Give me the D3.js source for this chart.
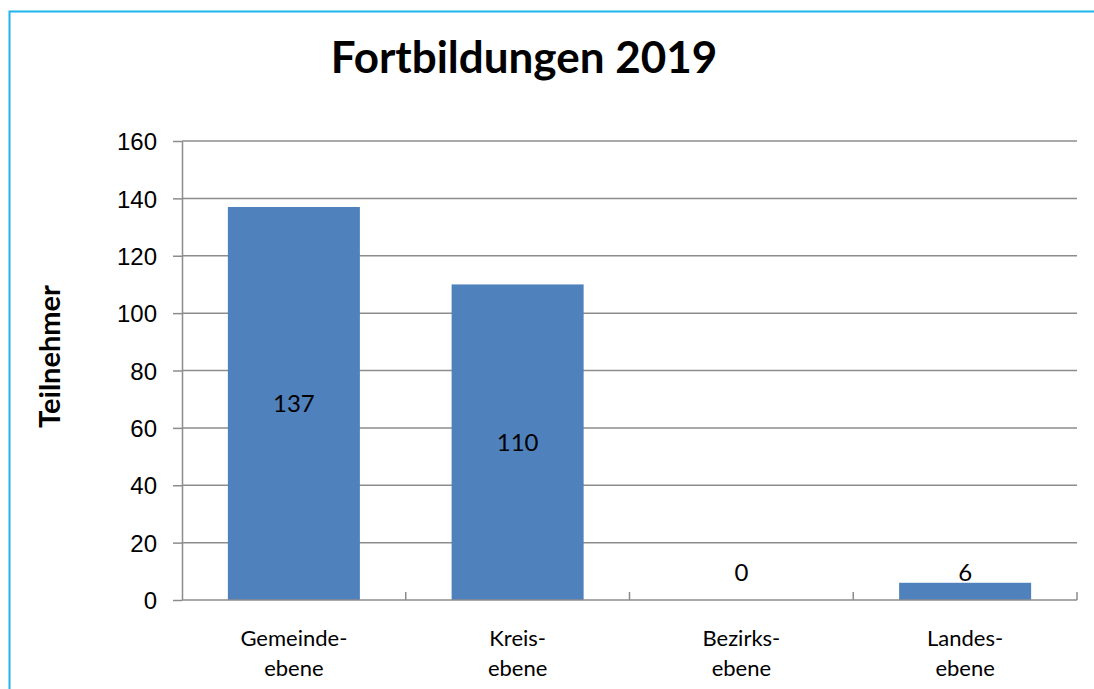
<!doctype html>
<html lang="de">
  <head>
    <meta charset="utf-8">
    <title>Fortbildungen 2019</title>
    <style>
    body { margin: 0; background: #fff; }
    svg { display: block; font-family: Lato, "Open Sans", sans-serif; }
    .grid line { stroke: #8c8c8c; stroke-width: 1.5px; }
    .axis path, .axis line { stroke: #8c8c8c; stroke-width: 1.5px; }
    .axis text { fill: #000; font-size: 24px; }
    .axis text.cat { font-size: 22px; }
    </style>
    <script src="https://d3js.org/d3.v7.min.js"></script>
  </head>
  <body>
    <svg width="1094" height="689"></svg>
    <script>

    // chart data
    var categories = [["Gemeinde-", "ebene"], ["Kreis-", "ebene"], ["Bezirks-", "ebene"], ["Landes-", "ebene"]];
    var values = [137, 110, 0, 6];
    var yTicks = [0, 20, 40, 60, 80, 100, 120, 140, 160];
    var title = "Fortbildungen 2019";
    var yTitle = "Teilnehmer";

    var svg = d3.select("svg"),
        width = +svg.attr("width"),
        height = +svg.attr("height");

    var margin = {left: 182, right: 1077, top: 141, bottom: 600};

    // outer frame (runs off the right and bottom edges)
    svg.append("rect")
        .attr("x", 9.5).attr("y", 11.5)
        .attr("width", width + 20).attr("height", height + 20)
        .attr("fill", "none")
        .attr("stroke", "#1fb4ee")
        .attr("stroke-width", 2);

    var x = d3.scaleBand()
        .domain(d3.range(categories.length))
        .range([margin.left, margin.right])
        .paddingInner(0.41)
        .paddingOuter(0.205);

    var xBounds = d3.scaleLinear()
        .domain([0, categories.length])
        .range([margin.left, margin.right]);

    var y = d3.scaleLinear()
        .domain([0, 160])
        .range([margin.bottom, margin.top]);

    // gridlines
    svg.append("g")
        .attr("class", "grid")
        .selectAll("line")
        .data(yTicks.filter(function(d) { return d > 0; }))
        .enter().append("line")
        .attr("x1", margin.left)
        .attr("x2", margin.right)
        .attr("y1", function(d) { return y(d); })
        .attr("y2", function(d) { return y(d); });

    // bars
    svg.append("g")
        .selectAll("rect")
        .data(values)
        .enter().append("rect")
        .attr("x", function(d, i) { return x(i); })
        .attr("width", x.bandwidth())
        .attr("y", function(d) { return y(d); })
        .attr("height", function(d) { return y(0) - y(d); })
        .attr("fill", "#4f81bd");

    // y axis
    var yAxis = svg.append("g")
        .attr("class", "axis")
        .attr("transform", "translate(" + margin.left + ",0)")
        .call(d3.axisLeft(y).tickValues(yTicks).tickSize(9).tickSizeOuter(0).tickPadding(16));
    yAxis.selectAll("text").attr("dy", "0.36em");

    // x axis: line plus upward ticks at category boundaries
    var xAxis = svg.append("g")
        .attr("class", "axis")
        .attr("transform", "translate(0," + margin.bottom + ")");
    xAxis.append("line")
        .attr("x1", margin.left).attr("x2", margin.right);
    xAxis.selectAll(".bound")
        .data(d3.range(1, categories.length + 1))
        .enter().append("line")
        .attr("class", "bound")
        .attr("x1", function(d) { return xBounds(d); })
        .attr("x2", function(d) { return xBounds(d); })
        .attr("y1", 0).attr("y2", -8);

    var catLabel = xAxis.selectAll(".cat")
        .data(categories)
        .enter().append("text")
        .attr("class", "cat")
        .attr("text-anchor", "middle")
        .attr("x", function(d, i) { return x(i) + x.bandwidth() / 2; });
    catLabel.selectAll("tspan")
        .data(function(d) { return d; })
        .enter().append("tspan")
        .attr("x", function() { return this.parentNode.getAttribute("x"); })
        .attr("y", function(d, i) { return 46 + i * 30; })
        .text(function(d) { return d; });

    // data labels (small bars get their label just above)
    svg.append("g")
        .selectAll("text")
        .data(values)
        .enter().append("text")
        .attr("text-anchor", "middle")
        .attr("font-size", 24)
        .attr("dy", "0.36em")
        .attr("x", function(d, i) { return x(i) + x.bandwidth() / 2; })
        .attr("y", function(d) { return Math.min((y(d) + y(0)) / 2, y(0) - 28); })
        .text(function(d) { return d; });

    // title
    svg.append("text")
        .attr("x", 524)
        .attr("y", 73)
        .attr("text-anchor", "middle")
        .attr("font-size", 44)
        .attr("font-weight", "bold")
        .text(title);

    // y axis title
    svg.append("text")
        .attr("transform", "translate(60," + ((margin.top + margin.bottom) / 2 - 14) + ") rotate(-90)")
        .attr("text-anchor", "middle")
        .attr("font-size", 29)
        .attr("font-weight", "bold")
        .text(yTitle);

    </script>
  </body>
</html>
